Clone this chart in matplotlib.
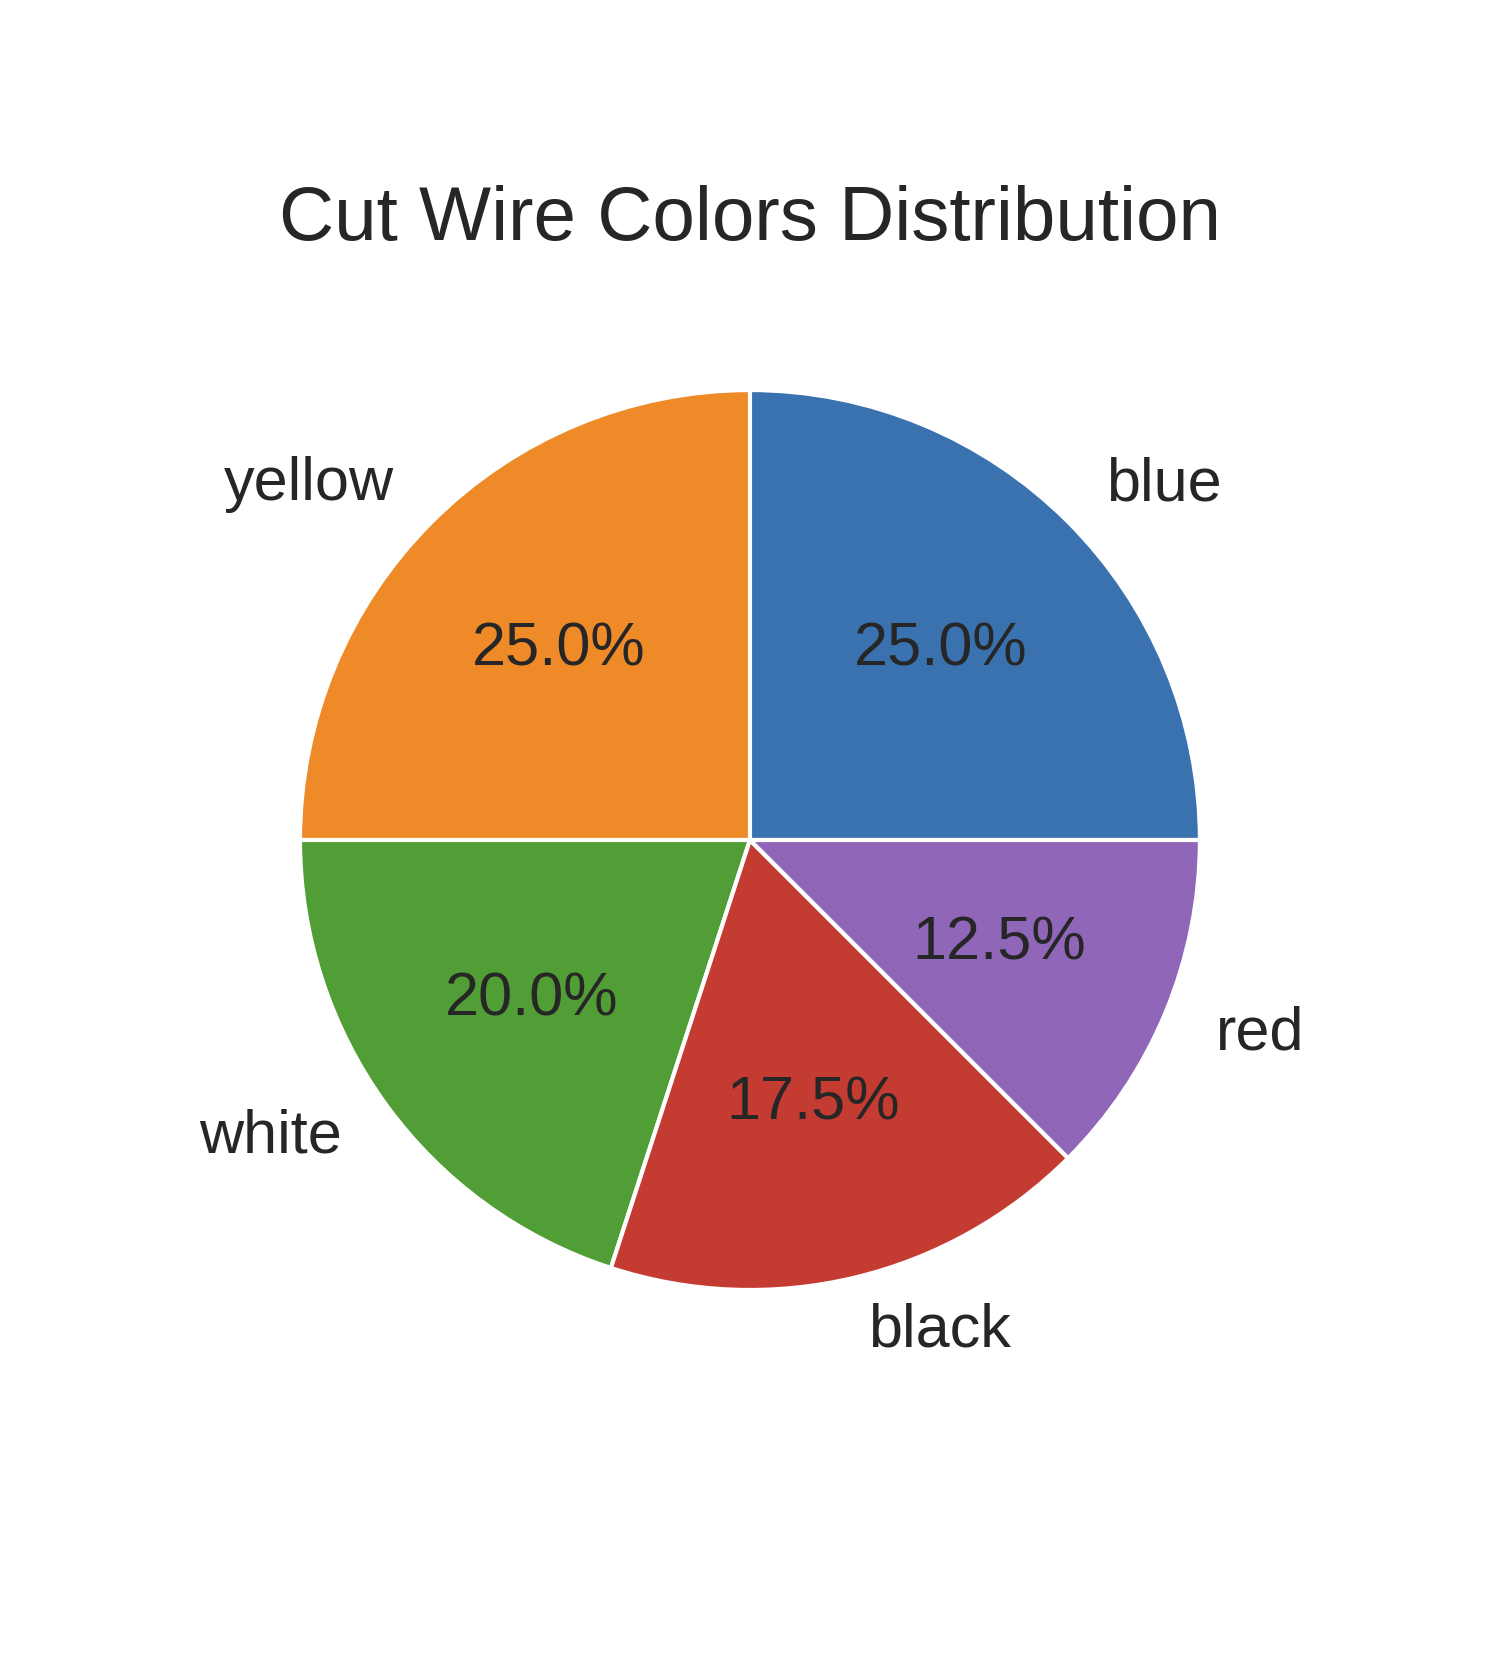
import matplotlib.pyplot as plt

# pie data
labels = ['blue', 'yellow', 'white', 'black', 'red']
shares = [25.0, 25.0, 20.0, 17.5, 12.5]
colors = ['#3a72b0', '#ef8a28', '#509e35', '#c43b31', '#9066b8']

plt.rcParams['font.family'] = ['Liberation Sans', 'DejaVu Sans']
plt.rcParams['text.color'] = '#262626'

fig = plt.figure(figsize=(15.02, 16.74), dpi=100)
ax = fig.add_axes([0.1248, 0.1616, 0.749, 0.672])

ax.pie(shares, labels=labels, colors=colors, autopct='%1.1f%%',
       labeldistance=1.12,
       wedgeprops={'edgecolor': 'white', 'linewidth': 3},
       textprops={'fontsize': 44, 'color': '#262626'})
ax.set_title('Cut Wire Colors Distribution', fontsize=55, pad=28, color='#262626')

fig.savefig('out.png', dpi=100)
